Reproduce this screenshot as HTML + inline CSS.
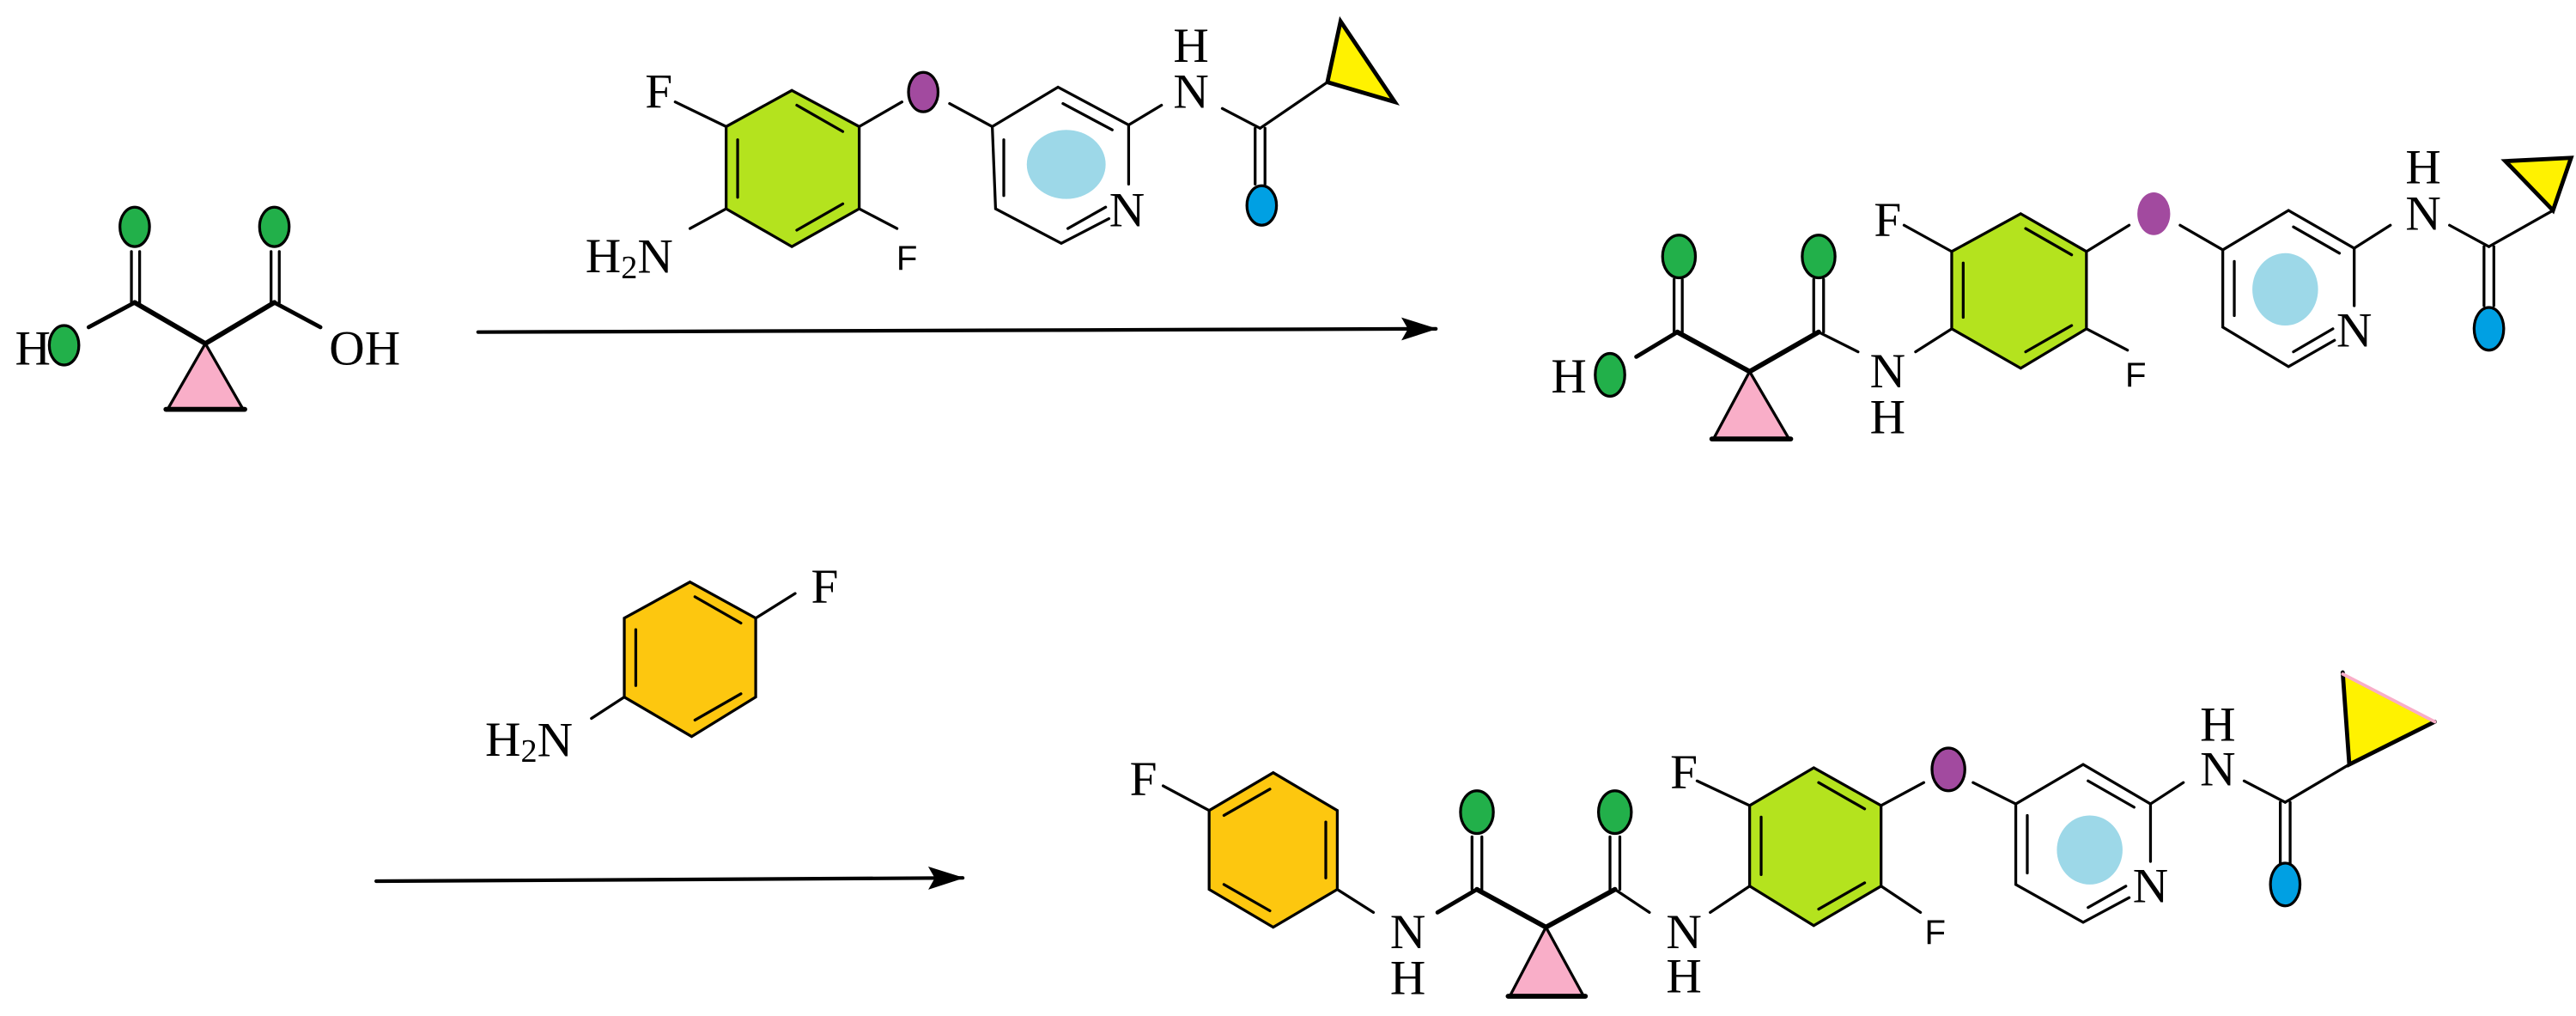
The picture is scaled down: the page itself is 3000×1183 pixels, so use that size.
<!DOCTYPE html>
<html><head><meta charset="utf-8"><style>
html,body{margin:0;padding:0;background:#fff;}
svg{display:block;}
text{font-family:"Liberation Serif",serif;font-size:30px;fill:#000;}
.sf{font-family:"Liberation Sans",sans-serif;font-size:21px;}
</style></head><body>
<svg width="3000" height="1183" viewBox="0 0 1568 618" preserveAspectRatio="none" xmlns="http://www.w3.org/2000/svg">
<defs>
<marker id="ah" markerWidth="22" markerHeight="14" refX="21" refY="7" orient="auto" markerUnits="userSpaceOnUse"><path d="M0,0 L22,7 L0,14 L4,7 Z" fill="#000"/></marker>
</defs>
<g stroke="#000" stroke-width="1.7" fill="none" stroke-linecap="round">

<!-- ===== Malonic acid ===== -->
<polygon points="125,209 102,249 148,249" fill="#f9aec8" stroke="#000" stroke-width="1.7"/>
<line x1="101" y1="249" x2="149" y2="249" stroke-width="3"/>
<line x1="82" y1="184" x2="125" y2="209" stroke-width="3"/>
<line x1="167" y1="184" x2="125" y2="209" stroke-width="3"/>
<line x1="82" y1="184" x2="54" y2="199" stroke-width="2.5"/>
<line x1="167" y1="184" x2="195" y2="199" stroke-width="2.5"/>
<line x1="80" y1="184" x2="80" y2="153"/><line x1="85" y1="184" x2="85" y2="153"/>
<line x1="165" y1="184" x2="165" y2="153"/><line x1="170" y1="184" x2="170" y2="153"/>
<ellipse cx="82" cy="138" rx="9" ry="12" fill="#22b04a"/>
<ellipse cx="167" cy="138" rx="9" ry="12" fill="#22b04a"/>
<ellipse cx="39" cy="210" rx="9" ry="12" fill="#22b04a"/>

<!-- ===== Reagent 1 ===== -->
<polygon points="482,55 523,77 523,127 482,150 442,127 442,77" fill="#b4e31e"/>
<line x1="485" y1="64" x2="513" y2="80"/><line x1="449" y1="85" x2="449" y2="120"/><line x1="513" y1="124" x2="485" y2="140"/>
<line x1="442" y1="77" x2="411" y2="62"/>
<line x1="442" y1="127" x2="420" y2="139"/>
<line x1="523" y1="127" x2="546" y2="139"/>
<line x1="523" y1="77" x2="549" y2="62"/>
<ellipse cx="562" cy="56" rx="9" ry="12" fill="#a24a9f"/>
<line x1="578" y1="63" x2="604" y2="77"/>
<ellipse cx="649" cy="100" rx="24" ry="21" fill="#9dd8e8" stroke="none"/>
<polyline points="675,133 646,148 606,127 604,77 644,53 687,76 687,112"/>
<line x1="611" y1="85" x2="611" y2="119"/><line x1="647" y1="63" x2="677" y2="79"/><line x1="673" y1="126" x2="650" y2="139"/>
<line x1="687" y1="76" x2="707" y2="64"/>
<line x1="744" y1="66" x2="767" y2="78"/>
<line x1="764" y1="78" x2="764" y2="112"/><line x1="770" y1="78" x2="770" y2="112"/>
<line x1="767" y1="78" x2="808" y2="50"/>
<polygon points="808,50 816,13 849,62" fill="#fff200" stroke="#000" stroke-width="2.5"/>
<ellipse cx="768" cy="125" rx="9" ry="12" fill="#00a0e3"/>

<!-- arrow 1 -->
<line x1="291" y1="202" x2="874" y2="200" stroke-width="2.2" marker-end="url(#ah)"/>

<!-- ===== Product 1 ===== -->
<polygon points="1065,226 1043,267 1089,267" fill="#f9aec8"/>
<line x1="1042" y1="267" x2="1090" y2="267" stroke-width="3"/>
<line x1="1021" y1="202" x2="1065" y2="226" stroke-width="3"/>
<line x1="1107" y1="202" x2="1065" y2="226" stroke-width="3"/>
<line x1="1021" y1="202" x2="996" y2="217" stroke-width="2.5"/>
<line x1="1019" y1="202" x2="1019" y2="170"/><line x1="1024" y1="202" x2="1024" y2="170"/>
<line x1="1104" y1="202" x2="1104" y2="170"/><line x1="1110" y1="202" x2="1110" y2="170"/>
<ellipse cx="1022" cy="156" rx="10" ry="13" fill="#22b04a"/>
<ellipse cx="1107" cy="156" rx="10" ry="13" fill="#22b04a"/>
<ellipse cx="980" cy="228" rx="9" ry="13" fill="#22b04a"/>
<line x1="1107" y1="202" x2="1131" y2="214"/>
<line x1="1166" y1="214" x2="1188" y2="200"/>
<polygon points="1230,130 1270,153 1270,200 1230,224 1188,200 1188,153" fill="#b4e31e"/>
<line x1="1233" y1="139" x2="1261" y2="155"/><line x1="1195" y1="160" x2="1195" y2="193"/><line x1="1261" y1="198" x2="1233" y2="214"/>
<line x1="1188" y1="153" x2="1159" y2="137"/>
<line x1="1270" y1="200" x2="1295" y2="213"/>
<line x1="1270" y1="153" x2="1296" y2="137"/>
<ellipse cx="1311" cy="130" rx="10" ry="13" fill="#a24a9f" stroke="none"/>
<line x1="1327" y1="137" x2="1353" y2="152"/>
<ellipse cx="1391" cy="176" rx="20" ry="22" fill="#9dd8e8" stroke="none"/>
<polyline points="1421,207 1393,223 1353,199 1353,152 1393,128 1433,151 1433,186"/>
<line x1="1360" y1="159" x2="1360" y2="192"/><line x1="1396" y1="138" x2="1424" y2="154"/><line x1="1420" y1="200" x2="1396" y2="214"/>
<line x1="1433" y1="151" x2="1455" y2="137"/>
<line x1="1491" y1="137" x2="1515" y2="150"/>
<line x1="1512" y1="150" x2="1512" y2="186"/><line x1="1518" y1="150" x2="1518" y2="186"/>
<line x1="1515" y1="150" x2="1554" y2="128"/>
<polygon points="1554,128 1525,98 1565,96" fill="#fff200" stroke="#000" stroke-width="2.5"/>
<ellipse cx="1515" cy="200" rx="9" ry="13" fill="#00a0e3"/>

<!-- ===== Reagent 2 ===== -->
<polygon points="420,354 460,376 460,424 421,448 380,424 380,376" fill="#fdc70f"/>
<line x1="423" y1="363" x2="451" y2="379"/><line x1="387" y1="383" x2="387" y2="417"/><line x1="451" y1="422" x2="423" y2="438"/>
<line x1="460" y1="376" x2="484" y2="361"/>
<line x1="380" y1="424" x2="360" y2="437"/>

<!-- arrow 2 -->
<line x1="229" y1="536" x2="586" y2="534" stroke-width="2.2" marker-end="url(#ah)"/>

<!-- ===== Product 2 ===== -->
<polygon points="775,470 814,493 814,541 775,564 736,541 736,493" fill="#fdc70f"/>
<line x1="745" y1="496" x2="773" y2="480"/><line x1="807" y1="500" x2="807" y2="534"/><line x1="745" y1="538" x2="773" y2="554"/>
<line x1="736" y1="493" x2="708" y2="478"/>
<line x1="814" y1="541" x2="836" y2="555"/>
<line x1="875" y1="555" x2="899" y2="541" stroke-width="2.5"/>
<polygon points="941,564 919,606 964,606" fill="#f9aec8"/>
<line x1="918" y1="606" x2="965" y2="606" stroke-width="3"/>
<line x1="899" y1="541" x2="941" y2="564" stroke-width="3"/>
<line x1="983" y1="541" x2="941" y2="564" stroke-width="3"/>
<line x1="896" y1="541" x2="896" y2="509"/><line x1="902" y1="541" x2="902" y2="509"/>
<line x1="980" y1="541" x2="980" y2="509"/><line x1="986" y1="541" x2="986" y2="509"/>
<ellipse cx="899" cy="494" rx="10" ry="13" fill="#22b04a"/>
<ellipse cx="983" cy="494" rx="10" ry="13" fill="#22b04a"/>
<line x1="983" y1="541" x2="1004" y2="555"/>
<line x1="1041" y1="555" x2="1065" y2="539"/>
<polygon points="1104,467 1145,490 1145,539 1104,563 1065,539 1065,490" fill="#b4e31e"/>
<line x1="1107" y1="476" x2="1135" y2="492"/><line x1="1072" y1="497" x2="1072" y2="532"/><line x1="1135" y1="537" x2="1107" y2="553"/>
<line x1="1065" y1="490" x2="1033" y2="475"/>
<line x1="1145" y1="539" x2="1169" y2="555"/>
<line x1="1145" y1="490" x2="1171" y2="476"/>
<ellipse cx="1186" cy="468" rx="10" ry="13" fill="#a24a9f"/>
<line x1="1201" y1="476" x2="1227" y2="489"/>
<ellipse cx="1272" cy="517" rx="20" ry="21" fill="#9dd8e8" stroke="none"/>
<polyline points="1296,546 1268,561 1227,538 1227,489 1268,465 1309,489 1309,524"/>
<line x1="1234" y1="496" x2="1234" y2="531"/><line x1="1271" y1="475" x2="1299" y2="491"/><line x1="1294" y1="539" x2="1271" y2="552"/>
<line x1="1309" y1="489" x2="1329" y2="476"/>
<line x1="1366" y1="475" x2="1391" y2="488"/>
<line x1="1388" y1="488" x2="1388" y2="525"/><line x1="1394" y1="488" x2="1394" y2="525"/>
<line x1="1391" y1="488" x2="1430" y2="465"/>
<polygon points="1430,465 1426,409 1482,439" fill="#fff200" stroke="none"/>
<polyline points="1426,409 1430,465 1482,439" stroke-width="2.5"/>
<line x1="1426" y1="410" x2="1482" y2="439" stroke="#f9aec8" stroke-width="2"/>
<ellipse cx="1391" cy="538" rx="9" ry="13" fill="#00a0e3"/>
</g>

<!-- ===== Text ===== -->
<g text-anchor="middle" dominant-baseline="central">
<text x="20" y="212">H</text>
<text x="222" y="212">OH</text>
<text x="401" y="56">F</text>
<text x="383" y="156">H<tspan font-size="20" dy="7">2</tspan><tspan dy="-7">N</tspan></text>
<text class="sf" x="552" y="157">F</text>
<text x="686" y="128">N</text>
<text x="725" y="56">N</text>
<text x="725" y="28">H</text>
<text x="955" y="229">H</text>
<text x="1149" y="226">N</text>
<text x="1149" y="254">H</text>
<text x="1149" y="134">F</text>
<text class="sf" x="1300" y="228">F</text>
<text x="1433" y="201">N</text>
<text x="1475" y="130">N</text>
<text x="1475" y="102">H</text>
<text x="502" y="357">F</text>
<text x="322" y="450">H<tspan font-size="20" dy="7">2</tspan><tspan dy="-7">N</tspan></text>
<text x="696" y="474">F</text>
<text x="857" y="567">N</text>
<text x="857" y="595">H</text>
<text x="1025" y="567">N</text>
<text x="1025" y="594">H</text>
<text x="1025" y="470">F</text>
<text class="sf" x="1178" y="567">F</text>
<text x="1309" y="539">N</text>
<text x="1350" y="468">N</text>
<text x="1350" y="441">H</text>
</g>
</svg>
</body></html>
